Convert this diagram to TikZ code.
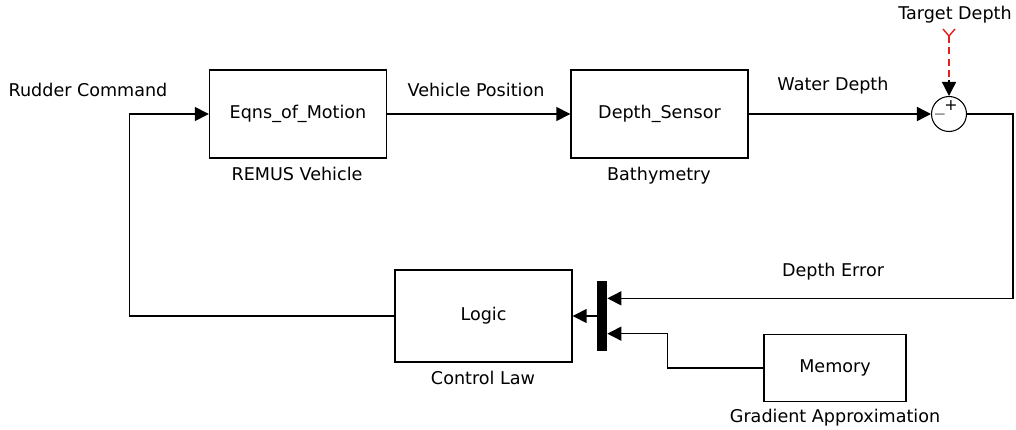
\documentclass[tikz,border=0pt]{standalone}
\usepackage{fontspec}
\setmainfont{DejaVu Sans}
\usetikzlibrary{arrows.meta, positioning, calc}
\newcommand{\sigfont}{\fontsize{10}{12}\selectfont}
\definecolor{tgtred}{RGB}{230,30,30}
\tikzset{
  block/.style   = {draw, line width=0.8pt, minimum width=3.54cm, minimum height=1.76cm,
                    inner sep=0pt, font=\sigfont},
  sumblk/.style  = {circle, draw, line width=0.6pt, minimum size=0.7cm, inner sep=0pt},
  muxbar/.style  = {fill=black, minimum width=0.2cm, minimum height=1.4cm, inner sep=0pt},
  lbl/.style     = {font=\sigfont, inner sep=1pt},
  sgn/.style     = {font=\fontsize{9}{10}\selectfont, inner sep=0pt},
  sig/.style     = {-{Triangle[length=2.8mm, width=2.8mm]}, line width=0.8pt},
  tgtline/.style = {draw=tgtred, line width=0.8pt},
}
\begin{document}
\begin{tikzpicture}[x=0.02cm, y=-0.02cm]
  \useasboundingbox (0,0) rectangle (1016,429);

  \node[block] (eqns)   at (298,114) {Eqns\_of\_Motion};
  \node[block] (sensor) at (659.5,114) {Depth\_Sensor};
  \node[sumblk] (sum)   at (949,114) {};
  \node[muxbar] (mux)   at (602,316) {};
  \node[block, minimum height=1.84cm] (logic) at (483.5,316) {Logic};
  \node[block, minimum width=2.84cm, minimum height=1.34cm] (memory) at (835,368) {Memory};

  \node[sgn] (plus)  at (951,106) {+};
  \node[sgn] (minus) at (940,115) {$-$};

  \node[lbl] (rudder)  at (88,90)   {Rudder Command};
  \node[lbl] (vehpos)  at (476,90)  {Vehicle Position};
  \node[lbl] (water)   at (833,86)  {Water Depth};
  \node[lbl] (derr)    at (833,272) {Depth Error};
  \node[lbl] (target)  at (955,15)  {Target Depth};
  \node[lbl] (remus)   at (297,174) {REMUS Vehicle};
  \node[lbl] (bathy)   at (659,176) {Bathymetry};
  \node[lbl] (ctrl)    at (483,378) {Control Law};
  \node[lbl] (gradapp) at (835,418) {Gradient Approximation};

  \coordinate (tgt)    at (949,36);
  \coordinate (tgtend) at (949,80);
  \coordinate (muxin1) at ($(mux.north east)!0.25!(mux.south east)$);
  \coordinate (muxin2) at ($(mux.north east)!0.75!(mux.south east)$);

  \draw[tgtline] (943,29) -- (tgt) -- (955,29);
  \draw[tgtline, dashed, dash pattern=on 4pt off 2.5pt] (tgt) -- (tgtend);
  \draw[sig] (tgtend) -- (sum.north);

  \draw[sig] (eqns.east) -- (sensor.west);
  \draw[sig] (sensor.east) -- (sum.west);
  \draw[sig] (sum.east) -- ++(46,0) |- (muxin1);
  \draw[sig] (memory.west) -- ++(-96,0) |- (muxin2);
  \draw[sig] (mux.west) -- (logic.east);
  \draw[sig] (logic.west) -- ++(-265,0) |- (eqns.west);
\end{tikzpicture}
\end{document}
